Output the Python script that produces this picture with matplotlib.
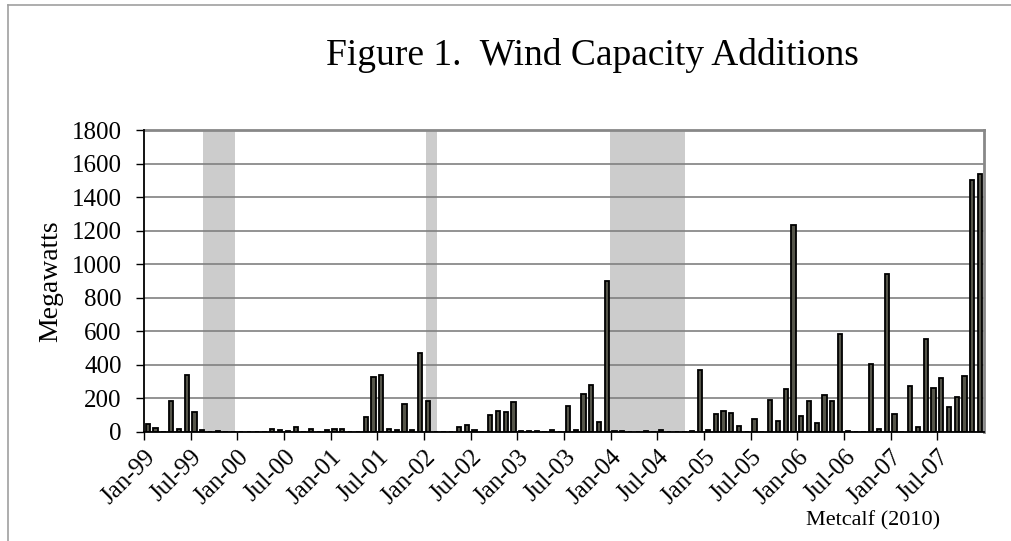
import matplotlib
matplotlib.use("Agg")
import matplotlib.pyplot as plt
from matplotlib.lines import Line2D
from matplotlib.transforms import ScaledTranslation, blended_transform_factory
import numpy as np

# monthly wind capacity additions, Jan-1999 .. Dec-2007 (MW)
additions = [
    45, 20, 0, 180, 15, 340, 116, 10, 0, 3, 0, 0,            # 1999
    0, 0, 0, 0, 12, 6, 5, 25, 0, 14, 0, 6,                   # 2000
    14, 16, 0, 0, 84, 326, 336, 14, 6, 164, 6, 470,          # 2001
    184, 0, 0, 0, 28, 36, 6, 0, 100, 120, 116, 174,          # 2002
    5, 5, 5, 0, 10, 0, 150, 6, 226, 280, 58, 900,            # 2003
    3, 3, 0, 0, 2, 0, 6, 0, 0, 0, 3, 370,                    # 2004
    10, 104, 120, 110, 34, 0, 76, 0, 186, 62, 254, 1230,     # 2005
    94, 184, 50, 218, 184, 584, 4, 0, 0, 404, 12, 940,       # 2006
    102, 0, 270, 26, 550, 262, 322, 146, 204, 334, 1500, 1540,  # 2007
]
years = ["99", "00", "01", "02", "03", "04", "05", "06", "07"]
tick_labels = [f"{m}-{y}" for y in years for m in ("Jan", "Jul")]
# periods shaded grey (months since Jan-99)
shade_start = [7.6, 36.2, 59.9]
shade_end = [11.7, 37.7, 69.5]

plt.rcParams["font.family"] = "Liberation Serif"

fig = plt.figure(figsize=(10.11, 5.41), dpi=100)
ax = fig.add_axes([0.1424, 0.2024, 0.8309, 0.5573])

for s, e in zip(shade_start, shade_end):
    ax.axvspan(s, e, color="#cccccc", zorder=0, lw=0)

x = np.arange(len(additions)) + 0.5
ax.bar(x, additions, width=0.55, color="#55554a", edgecolor="black",
       linewidth=1.3, zorder=3)

ax.set_xlim(0, len(additions))
ax.set_ylim(0, 1800)
ax.set_yticks(range(0, 1801, 200))
tick_pos = list(range(0, len(additions), 6))
ax.set_xticks(tick_pos)
ax.set_xticklabels([])
# slanted labels hanging off each tick, like the original
lab_tr = blended_transform_factory(ax.transData, ax.transAxes) + \
    ScaledTranslation(8 / 100, -22 / 100, fig.dpi_scale_trans)
for p, lbl in zip(tick_pos, tick_labels):
    ax.text(p, 0, lbl, transform=lab_tr, rotation=45, ha="right", va="center",
            rotation_mode="anchor", fontsize=18)
ax.tick_params(axis="y", labelsize=18, length=6, width=1, pad=10)
ax.tick_params(axis="x", length=6, width=1)
ax.yaxis.grid(True, color="#808080", linewidth=1.2, zorder=1)
ax.set_axisbelow(True)

for side in ("top", "right"):
    ax.spines[side].set_color("#888888")
    ax.spines[side].set_linewidth(2)
for side in ("left", "bottom"):
    ax.spines[side].set_color("black")
    ax.spines[side].set_linewidth(1.3)
    ax.spines[side].set_zorder(4)

ax.set_ylabel("Megawatts", fontsize=20, labelpad=6)

fig.text(0.586, 0.898, "Figure 1.  Wind Capacity Additions", ha="center",
         va="center", fontsize=27)
fig.text(0.864, 0.037, "Metcalf (2010)", ha="center", va="center", fontsize=16)

# outer chart frame (left and top edges)
fig.add_artist(Line2D([0.008, 0.008], [0.0, 0.991], transform=fig.transFigure,
                      color="#a0a0a0", linewidth=1.2))
fig.add_artist(Line2D([0.008, 1.0], [0.991, 0.991], transform=fig.transFigure,
                      color="#a0a0a0", linewidth=1.2))

fig.savefig("out.png", dpi=100)
